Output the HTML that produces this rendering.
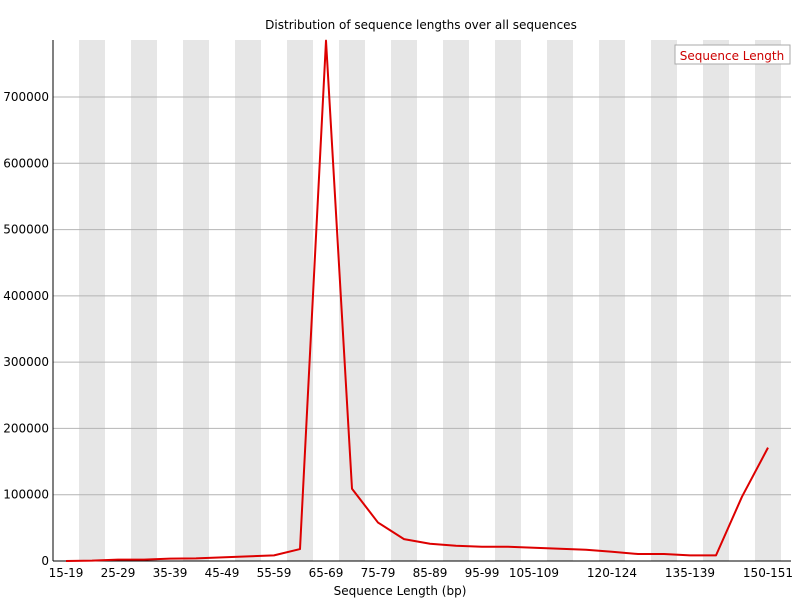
<!DOCTYPE html>
<html><head><meta charset="utf-8">
<style>
html,body{margin:0;padding:0;background:#fff;}
svg{display:block;font-family:"DejaVu Sans","Liberation Sans",sans-serif;}
</style></head>
<body>
<svg id="chart" width="800" height="600" viewBox="0 0 800 600" xmlns="http://www.w3.org/2000/svg">
<text x="421" y="29" font-size="12" text-anchor="middle">Distribution of sequence lengths over all sequences</text>
<g id="stripes"></g>
<g id="grid"></g>
<g id="axes"></g>
<g id="series"></g>
<text x="400" y="595" font-size="12" text-anchor="middle">Sequence Length (bp)</text>
<g>
<rect x="675" y="45" width="115" height="19" fill="#fff" stroke="#aaa" stroke-width="1"/>
<text x="732" y="60" font-size="12" text-anchor="middle" fill="#cc0000">Sequence Length</text>
</g>
</svg>
<script>
const categories = ["15-19","20-24","25-29","30-34","35-39","40-44","45-49","50-54","55-59","60-64","65-69","70-74","75-79","80-84","85-89","90-94","95-99","100-104","105-109","110-114","115-119","120-124","125-129","130-134","135-139","140-144","145-149","150-151"];
const seqLengthCounts = [0,500,2000,2000,3500,4000,5500,7000,8500,18000,785000,109000,58000,33000,26000,23000,21500,21500,20000,18500,17000,14000,10500,10500,8500,8500,97000,171000];
const yTicks = [0,100000,200000,300000,400000,500000,600000,700000];
const xLabelIdx = [0,2,4,6,8,10,12,14,16,18,21,24,27];

const NS="http://www.w3.org/2000/svg";
const plotLeft=53, plotRight=791, plotTop=40, plotBottom=561, band=26, yMax=786000;
const xPos = i => plotLeft + (i+0.5)*band;
const yPos = v => plotBottom - v/yMax*(plotBottom-plotTop);
function mk(tag, attrs, parent){const e=document.createElementNS(NS,tag);for(const k in attrs)e.setAttribute(k,attrs[k]);parent.appendChild(e);return e;}
const stripes=document.getElementById('stripes'), grid=document.getElementById('grid'), axes=document.getElementById('axes'), series=document.getElementById('series');

categories.forEach((c,i)=>{
  if(i%2===1){
    const r=mk('rect',{x:plotLeft+i*band,y:plotTop,width:band,height:plotBottom-plotTop,fill:'#e6e6e6'},stripes);
    
    
  }
});
yTicks.forEach(t=>{
  const l=mk('line',{x1:plotLeft,x2:plotRight,y1:yPos(t),y2:yPos(t),stroke:'#b4b4b4','stroke-width':1},grid);
  
  
  const tx=mk('text',{x:plotLeft-4,y:yPos(t)+4,'font-size':12,'text-anchor':'end'},axes);
  tx.textContent=t;
  
  
});
const ya=mk('line',{x1:plotLeft,x2:plotLeft,y1:plotTop,y2:plotBottom,stroke:'#000'},axes);


const xa=mk('line',{x1:plotLeft,x2:plotRight,y1:plotBottom,y2:plotBottom,stroke:'#000'},axes);


xLabelIdx.forEach(i=>{
  const tx=mk('text',{x:xPos(i),y:plotBottom+16,'font-size':12,'text-anchor':'middle'},axes);
  tx.textContent=categories[i];
  
  
});
const pts=seqLengthCounts.map((v,i)=>xPos(i)+','+yPos(v)).join(' ');
const pl=mk('polyline',{points:pts,fill:'none',stroke:'#dd0000','stroke-width':2,'stroke-linejoin':'round'},series);


</script>
</body></html>
